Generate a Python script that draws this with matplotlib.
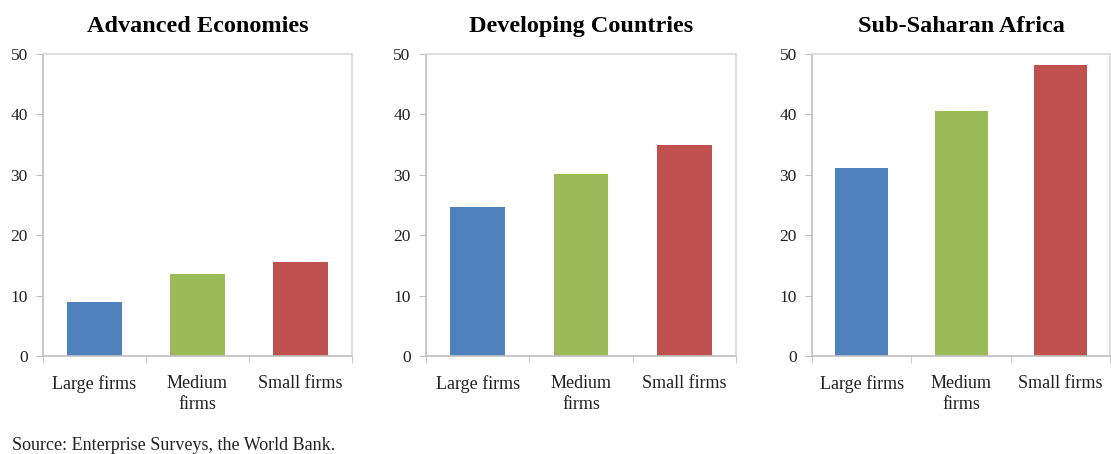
import matplotlib.pyplot as plt
import numpy as np

plt.rcParams['font.family'] = ['Liberation Serif', 'DejaVu Serif']

categories = ['Large firms', 'Medium\nfirms', 'Small firms']
titles = ['Advanced Economies', 'Developing Countries', 'Sub-Saharan Africa']
advanced = [9.0, 13.6, 15.5]
developing = [24.6, 30.2, 35.0]
ssa = [31.2, 40.6, 48.1]
colors = ['#4F81BD', '#9BBB59', '#C0504D']
yticks = [0, 10, 20, 30, 40, 50]

fig = plt.figure(figsize=(11.11, 4.54), dpi=100)

# axes positions in figure fraction (left, bottom, width, height)
boxes = [
    [0.0387, 0.2159, 0.2781, 0.6652],
    [0.3834, 0.2159, 0.2790, 0.6652],
    [0.7309, 0.2159, 0.2685, 0.6652],
]

x = np.arange(len(categories))
for box, title, vals in zip(boxes, titles, [advanced, developing, ssa]):
    ax = fig.add_axes(box)
    ax.bar(x, vals, width=0.53, color=colors, zorder=2)
    ax.set_xlim(-0.5, 2.5)
    ax.set_ylim(0, 50)
    ax.set_yticks(yticks)
    ax.set_xticks(x)
    ax.set_xticklabels(categories, fontsize=13, color='#222222', linespacing=1.25,
                       va='top')
    ax.set_xticks([-0.5, 0.5, 1.5, 2.5], minor=True)
    ax.tick_params(axis='x', which='major', length=0, pad=14)
    ax.tick_params(axis='x', which='minor', length=5, color='#bfbfbf', direction='out')
    ax.tick_params(axis='y', length=5, color='#bfbfbf', labelsize=12.5,
                   labelcolor='#222222', pad=6)
    for sp in ax.spines.values():
        sp.set_color('#d9d9d9')
        sp.set_linewidth(1.2)
    ax.spines['left'].set_color('#bfbfbf')
    ax.spines['bottom'].set_color('#bfbfbf')
    ax.set_title(title, fontsize=17.5, fontweight='bold', pad=16)

fig.text(0.011, 0.0, 'Source: Enterprise Surveys, the World Bank.',
         fontsize=13, color='#222222', ha='left', va='bottom')

fig.savefig('out.png', dpi=100)
